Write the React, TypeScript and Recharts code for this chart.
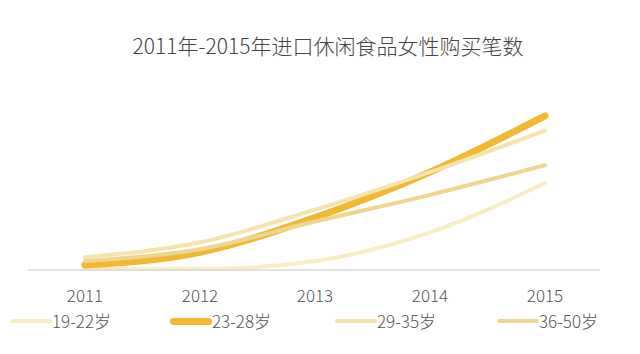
import React from 'react';
import { LineChart, Line, XAxis, YAxis } from 'recharts';

const years = ['2011', '2012', '2013', '2014', '2015'];
const age19to22 = [1, 1, 9, 38, 88];
const age23to28 = [5, 18, 53, 99, 156];
const age29to35 = [13, 28, 61, 99, 141];
const age36to50 = [9, 21, 49, 76, 106];

const seriesInfo = [
  { key: 'a', name: '19-22岁', color: '#f9edc6', width: 4 },
  { key: 'b', name: '23-28岁', color: '#f2b733', width: 7 },
  { key: 'c', name: '29-35岁', color: '#f6e4ae', width: 4 },
  { key: 'd', name: '36-50岁', color: '#efd690', width: 4 },
];

const data = years.map((y, i) => ({
  year: y,
  a: age19to22[i],
  b: age23to28[i],
  c: age29to35[i],
  d: age36to50[i],
}));

const font = '"Noto Sans CJK SC", "Open Sans", sans-serif';

const legendX = [10, 170, 335, 497];

const ChartLegend = () => (
  <div style={{ position: 'absolute', top: 308, left: 0, width: 640, height: 26 }}>
    {seriesInfo.map((s, i) => (
      <div key={s.key} style={{ position: 'absolute', left: legendX[i], top: 0, display: 'flex', alignItems: 'center' }}>
        <div style={{ width: 42, height: s.width, borderRadius: s.width / 2, background: s.color }} />
        <span style={{ fontFamily: font, fontSize: 17, color: '#555', fontWeight: 300, lineHeight: '26px' }}>{s.name}</span>
      </div>
    ))}
  </div>
);

export default function App() {
  return (
    <div style={{ position: 'absolute', top: 0, left: 0, width: 640, height: 354, background: '#fff' }}>
      <div style={{ position: 'absolute', top: 30, left: 0, width: 656, textAlign: 'center', fontFamily: font, fontSize: 21, color: '#444', fontWeight: 300 }}>
        2011年-2015年进口休闲食品女性购买笔数
      </div>
      <LineChart width={640} height={354} data={data} margin={{ top: 100, right: 40, left: 28, bottom: 54 }}>
        <XAxis
          dataKey="year"
          height={30}
          padding={{ left: 57, right: 55 }}
          axisLine={{ stroke: '#d8d8dc', strokeWidth: 1.5 }}
          tickLine={false}
          tick={{ fill: '#555', fontSize: 17, fontFamily: font, fontWeight: 300 }}
          tickMargin={14}
        />
        <YAxis hide domain={[0, 172]} />
        {seriesInfo.map((s) => (
          <Line
            key={s.key}
            type="monotone"
            dataKey={s.key}
            name={s.name}
            stroke={s.color}
            strokeWidth={s.width}
            strokeLinecap="round"
            dot={false}
            isAnimationActive={false}
          />
        ))}
      </LineChart>
      <ChartLegend />
    </div>
  );
}
